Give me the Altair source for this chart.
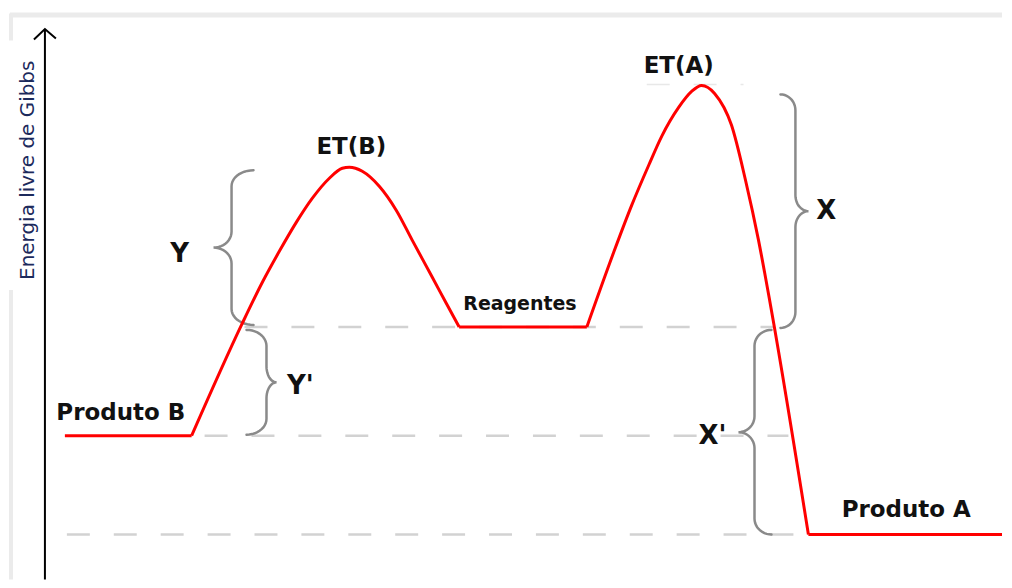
import altair as alt
import pandas as pd
import numpy as np

# ---- readings (reaction coordinate x, Gibbs free energy G, arbitrary units) ----
prodB_x = [65, 192]
prodB_G = [152, 152]
humpB_x = [192, 242, 263, 280, 297, 313, 330, 343, 350, 363, 380, 397, 413, 433, 447, 460]
humpB_G = [152, 263, 306, 337, 366, 390, 410, 420, 421, 417, 402, 378, 348, 311, 285, 261]
reag_x = [460, 588]
reag_G = [261, 261]
humpA_x = [588, 615, 633, 650, 663, 680, 693, 703, 716, 733, 747, 760, 772, 810]
humpA_G = [261, 336, 383, 423, 452, 481, 497, 503, 495, 463, 408, 348, 283, 53]
prodA_x = [810, 1004]
prodA_G = [53, 53]

# dashed reference levels
lvl_G = [261, 152, 53, 504]
lvl_x1 = [245, 205, 67, 648]
lvl_x2 = [775, 790, 800, 745]

# braces: name, stem x, top G, bottom G, direction (+1 tip right, -1 tip left), end width, tip width
br_name = ["Y", "Y'", "X", "X'"]
br_x = [232, 267, 797, 756]
br_top = [418, 258, 494, 258]
br_bot = [263, 153, 260, 53]
br_dir = [-1, 1, 1, -1]
br_wend = [22, 20, 15, 17]
br_wtip = [18, 10, 13, 16]

# labels
lab_text = ["ET(B)", "ET(A)", "Reagentes", "Produto B", "Produto A", "Y", "Y'", "X", "X'"]
lab_x = [352, 680, 521, 121, 908, 180, 301, 828, 714]
lab_G = [434, 515, 278, 168, 71, 326, 194, 369, 144]
lab_size = [23, 23, 19, 23, 23, 26, 26, 26, 26]

axis_title = "Energia livre de Gibbs"

# ---- build tables ----
rows = []
for seg, (xs, gs) in enumerate([(prodB_x, prodB_G), (humpB_x, humpB_G), (reag_x, reag_G),
                                 (humpA_x, humpA_G), (prodA_x, prodA_G)]):
    for xv, gv in zip(xs, gs):
        rows.append({"seg": seg, "x": xv, "G": gv})
curve = pd.DataFrame(rows)


def brace(xv, gt, gb, d, we, wt, r=16, n=12):
    gm = (gt + gb) / 2.0
    t = np.linspace(0, np.pi / 2, n)
    pts = []
    cx, cy = xv - d * we, gt - r
    pts += list(zip(cx + d * we * np.sin(t), cy + r * np.cos(t)))
    cx, cy = xv + d * wt, gm + r
    pts += list(zip(cx - d * wt * np.cos(t), cy - r * np.sin(t)))
    cx, cy = xv + d * wt, gm - r
    pts += list(zip(cx - d * wt * np.cos(t[::-1]), cy + r * np.sin(t[::-1])))
    cx, cy = xv - d * we, gb + r
    pts += list(zip(cx + d * we * np.sin(t[::-1]), cy - r * np.cos(t[::-1])))
    return pts


brows = []
for i, nm in enumerate(br_name):
    for k, (px, pg) in enumerate(brace(br_x[i], br_top[i], br_bot[i], br_dir[i], br_wend[i], br_wtip[i])):
        brows.append({"b": nm, "i": k, "x": px, "G": pg})
braces = pd.DataFrame(brows)

levels = pd.DataFrame({"G": lvl_G, "x": lvl_x1, "x2": lvl_x2,
                       "w": [2.5, 2.5, 2.5, 1.5], "c": ["#d2d2d2", "#d2d2d2", "#d2d2d2", "#e8e8e8"]})
labels = pd.DataFrame({"t": lab_text, "x": lab_x, "G": lab_G, "s": lab_size})

xs = alt.Scale(domain=[8, 1004], nice=False, zero=False)
ys = alt.Scale(domain=[8, 580], nice=False, zero=False)
X = lambda f="x": alt.X(f"{f}:Q", scale=xs, axis=None)
Y = lambda f="G": alt.Y(f"{f}:Q", scale=ys, axis=None)

# frame bands
frame = pd.DataFrame({"x": [10, 11, 11], "x2": [1004, 11, 11], "G": [573.5, 575, 298], "G2": [573.5, 548, 0],
                      "w": [5, 4, 4]})
frame_l = alt.Chart(frame).mark_rule(color="#ebebeb", clip=True).encode(
    x=X(), x2="x2:Q", y=Y(), y2="G2:Q", strokeWidth=alt.StrokeWidth("w:Q", scale=None))

lv = alt.Chart(levels).mark_rule(strokeDash=[23, 24]).encode(
    x=X(), x2="x2:Q", y=Y(), color=alt.Color("c:N", scale=None),
    strokeWidth=alt.StrokeWidth("w:Q", scale=None))

axis_df = pd.DataFrame({"x": [45], "G": [0], "G2": [559]})
axis_l = alt.Chart(axis_df).mark_rule(color="black", strokeWidth=2, clip=True).encode(
    x=X(), y=Y(), y2="G2:Q")
arrow_df = pd.DataFrame({"x": [34, 45, 56], "G": [549, 559.5, 550], "i": [0, 1, 2]})
arrow_l = alt.Chart(arrow_df).mark_line(color="black", strokeWidth=2).encode(
    x=X(), y=Y(), order="i:Q")

title_df = pd.DataFrame({"t": [axis_title], "x": [28], "G": [418]})
title_l = alt.Chart(title_df).mark_text(angle=270, font="DejaVu Sans", fontSize=20, color="#1c2a5c",
                                        baseline="middle", align="center").encode(
    x=X(), y=Y(), text="t:N")

br_l = alt.Chart(braces).mark_line(color="#8a8a8a", strokeWidth=2.5, strokeCap="round").encode(
    x=X(), y=Y(), detail="b:N", order="i:Q")

curve_l = alt.Chart(curve).mark_line(color="#ff0000", strokeWidth=3, interpolate="monotone",
                                     strokeJoin="round").encode(
    x=X(), y=Y(), detail="seg:N")

lab_l = alt.Chart(labels).mark_text(font="DejaVu Sans", fontWeight="bold", color="#111111",
                                    baseline="alphabetic", align="center").encode(
    x=X(), y=Y(), text="t:N", size=alt.Size("s:Q", scale=None))

chart = alt.layer(frame_l, lv, axis_l, arrow_l, title_l, br_l, curve_l, lab_l).properties(
    width=996, height=572, padding=0, background="white"
).configure_view(strokeWidth=0)

chart.save("out.html", embed_options={"renderer": "svg", "actions": False})
